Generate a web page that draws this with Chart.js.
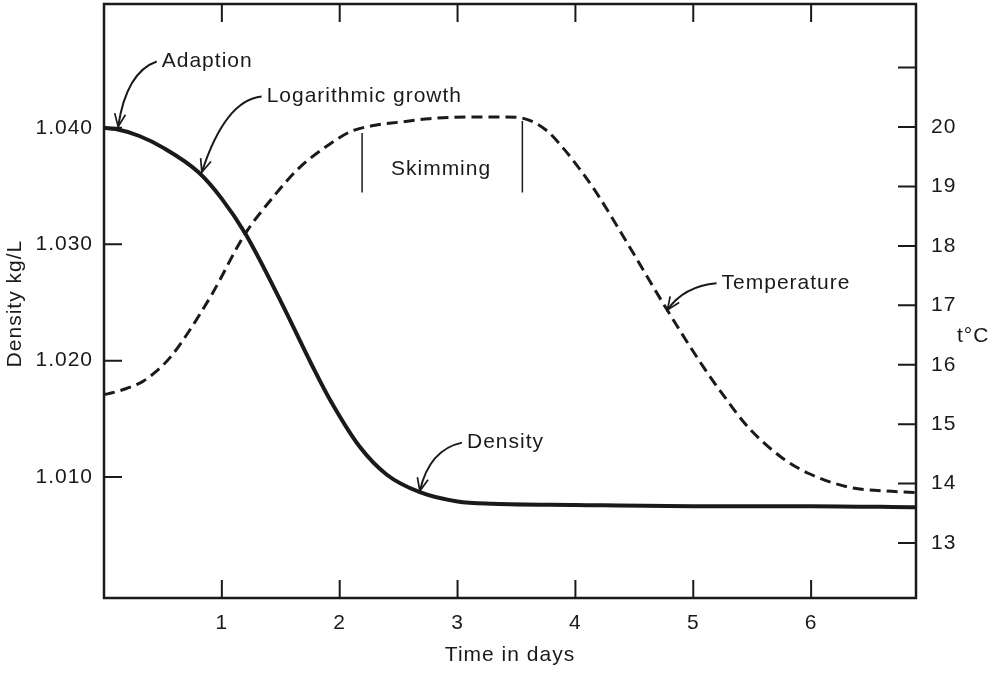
<!DOCTYPE html>
<html>
<head>
<meta charset="utf-8">
<title>Density and temperature during fermentation</title>
<script src="https://cdn.jsdelivr.net/npm/chart.js@4.4.1/dist/chart.umd.min.js"></script>
<style>
  html, body { margin: 0; padding: 0; background: #fff; }
  #wrap { width: 1002px; height: 673px; position: relative; }
</style>
</head>
<body>
<div id="wrap"><canvas id="ferment-chart"></canvas></div>
<script>
// DATA
const densityDays = [0, 0.1, 0.3, 0.5, 0.8, 1.0, 1.2, 1.5, 1.77, 1.92, 2.17, 2.4, 2.68, 3.0, 3.3, 4.0, 5.0, 6.0, 6.89];
const densityValues = [1.0400, 1.0399, 1.0393, 1.0383, 1.0362, 1.0339, 1.0309, 1.0251, 1.0195, 1.0166, 1.0126, 1.0102, 1.0087, 1.0079, 1.0077, 1.0076, 1.0075, 1.0075, 1.0074];

const tempDays = [0, 0.03, 0.19, 0.33, 0.45, 0.56, 0.7, 0.92, 1.19, 1.41, 1.65, 1.92, 2.1, 2.3, 2.5, 2.76, 3.1, 3.41, 3.55, 3.75, 3.89, 4.06, 4.18, 4.46, 4.77, 5.08, 5.28, 5.47, 5.75, 5.98, 6.32, 6.6, 6.89];
const tempValues = [15.5, 15.51, 15.6, 15.72, 15.9, 16.12, 16.5, 17.2, 18.18, 18.76, 19.3, 19.72, 19.93, 20.03, 20.08, 20.14, 20.17, 20.17, 20.15, 19.95, 19.66, 19.23, 18.89, 17.98, 16.95, 15.98, 15.42, 14.94, 14.44, 14.17, 13.94, 13.88, 13.85];

const dayTicks = [1, 2, 3, 4, 5, 6];
const densityTicks = [1.010, 1.020, 1.030, 1.040];
const tempTicks = [13, 14, 15, 16, 17, 18, 19, 20, 21];
const tempLabelMax = 20;

// notes with curved arrows: label position, bend of the arrow and its tip
const noteText = ["Adaption", "Logarithmic growth", "Density", "Temperature"];
const noteAxis = ["yDensity", "yDensity", "yDensity", "yTemp"];
const noteLabelAt = [[0.49, 1.0457], [1.38, 1.0427], [3.08, 1.01296], [5.24, 17.37]];
const noteBend = [[0.19, 1.0448], [1.03, 1.0424], [2.76, 1.01236], [4.92, 17.32]];
const noteTip = [[0.12, 1.0401], [0.83, 1.0362], [2.68, 1.0088], [4.78, 16.92]];

// skimming period, marked on the temperature curve
const skimStart = 2.19, skimEnd = 3.55;
const skimTop = [19.9, 20.1];
const skimBottom = 18.9;
const skimLabelAt = [2.86, 19.29];

const ink = "#1a1a1a";
const fontFamily = "'Liberation Sans', Arial, Helvetica, sans-serif";
const textFont = { family: fontFamily, size: 21 };

// AXES, TICK MARKS AND NOTES
const frameAndNotes = {
    id: "frameAndNotes",
    beforeUpdate: function(chart) { chart.ctx.letterSpacing = "1px"; },
    beforeDraw: function(chart) {
        const ctx = chart.ctx;
        ctx.letterSpacing = "1px";
        ctx.save();
        ctx.fillStyle = "#fff";
        ctx.fillRect(0, 0, chart.width, chart.height);
        ctx.restore();
    },
    afterDatasetsDraw: function(chart) {
        const ctx = chart.ctx;
        const a = chart.chartArea;
        const sx = chart.scales.x, sd = chart.scales.yDensity, st = chart.scales.yTemp;
        const tick = 18;

        ctx.save();
        ctx.strokeStyle = ink;
        ctx.fillStyle = ink;
        ctx.lineCap = "butt";

        // frame
        ctx.lineWidth = 2.5;
        ctx.strokeRect(a.left, a.top, a.right - a.left, a.bottom - a.top);

        // inward tick marks on all four sides
        ctx.lineWidth = 2;
        ctx.beginPath();
        dayTicks.forEach(function(d) {
            const px = sx.getPixelForValue(d);
            ctx.moveTo(px, a.bottom); ctx.lineTo(px, a.bottom - tick);
            ctx.moveTo(px, a.top); ctx.lineTo(px, a.top + tick);
        });
        densityTicks.forEach(function(v) {
            const py = sd.getPixelForValue(v);
            ctx.moveTo(a.left, py); ctx.lineTo(a.left + tick, py);
        });
        tempTicks.forEach(function(v) {
            const py = st.getPixelForValue(v);
            ctx.moveTo(a.right, py); ctx.lineTo(a.right - tick, py);
        });
        ctx.stroke();

        // skimming bracket
        ctx.lineWidth = 1.5;
        ctx.beginPath();
        [skimStart, skimEnd].forEach(function(d, i) {
            const px = sx.getPixelForValue(d);
            ctx.moveTo(px, st.getPixelForValue(skimTop[i]));
            ctx.lineTo(px, st.getPixelForValue(skimBottom));
        });
        ctx.stroke();

        ctx.font = "21px " + fontFamily;
        ctx.textAlign = "center";
        ctx.textBaseline = "middle";
        ctx.fillText("Skimming", sx.getPixelForValue(skimLabelAt[0]), st.getPixelForValue(skimLabelAt[1]));

        // notes and arrows
        ctx.textAlign = "left";
        for (let i = 0; i < noteText.length; i++) {
            const sy = chart.scales[noteAxis[i]];
            const lx = sx.getPixelForValue(noteLabelAt[i][0]);
            const ly = sy.getPixelForValue(noteLabelAt[i][1]);
            const cx = sx.getPixelForValue(noteBend[i][0]);
            const cy = sy.getPixelForValue(noteBend[i][1]);
            const tx = sx.getPixelForValue(noteTip[i][0]);
            const ty = sy.getPixelForValue(noteTip[i][1]);

            ctx.fillText(noteText[i], lx, ly);

            ctx.lineWidth = 2;
            ctx.beginPath();
            ctx.moveTo(lx - 5, ly);
            ctx.quadraticCurveTo(cx, cy, tx, ty);
            ctx.stroke();

            // open arrow head
            const ang = Math.atan2(ty - cy, tx - cx);
            const len = 14, spread = 0.4;
            ctx.lineWidth = 1.7;
            ctx.beginPath();
            ctx.moveTo(tx - len * Math.cos(ang - spread), ty - len * Math.sin(ang - spread));
            ctx.lineTo(tx, ty);
            ctx.lineTo(tx - len * Math.cos(ang + spread), ty - len * Math.sin(ang + spread));
            ctx.stroke();
        }

        // side titles
        ctx.save();
        ctx.translate(15, sd.getPixelForValue(1.0249));
        ctx.rotate(-Math.PI / 2);
        ctx.textAlign = "center";
        ctx.fillText("Density kg/L", 0, 0);
        ctx.restore();

        ctx.textAlign = "left";
        ctx.fillText("t\u00b0C", a.right + 41, st.getPixelForValue(16.48));

        ctx.restore();
    }
};

// CHART
new Chart("ferment-chart", {
    type: "line",
    data: {
        datasets: [
            {
                label: "Density",
                data: densityDays.map(function(d, i) { return { x: d, y: densityValues[i] }; }),
                yAxisID: "yDensity",
                borderColor: ink,
                borderWidth: 4,
                pointRadius: 0,
                cubicInterpolationMode: "monotone",
                fill: false
            },
            {
                label: "Temperature",
                data: tempDays.map(function(d, i) { return { x: d, y: tempValues[i] }; }),
                yAxisID: "yTemp",
                borderColor: ink,
                borderWidth: 3,
                borderDash: [11, 6],
                pointRadius: 0,
                cubicInterpolationMode: "monotone",
                fill: false
            }
        ]
    },
    options: {
        responsive: true,
        maintainAspectRatio: false,
        animation: false,
        layout: { padding: { top: 4, left: 0, right: 0, bottom: 0 } },
        plugins: {
            legend: { display: false },
            tooltip: { enabled: false }
        },
        scales: {
            x: {
                type: "linear",
                min: 0,
                max: 6.89,
                grid: { display: false, drawTicks: false },
                border: { display: false },
                afterBuildTicks: function(s) { s.ticks = dayTicks.map(function(v) { return { value: v }; }); },
                afterFit: function(s) { s.height = 75; s.paddingLeft = 0; s.paddingRight = 0; },
                ticks: { color: ink, font: textFont, padding: 13, maxRotation: 0 },
                title: {
                    display: true,
                    text: "Time in days",
                    color: ink,
                    font: textFont,
                    padding: { top: 0, bottom: 5 }
                }
            },
            yDensity: {
                type: "linear",
                position: "left",
                min: 0.99961,
                max: 1.05064,
                grid: { display: false, drawTicks: false },
                border: { display: false },
                afterBuildTicks: function(s) { s.ticks = densityTicks.map(function(v) { return { value: v }; }); },
                afterFit: function(s) { s.width = 104; s.paddingTop = 0; s.paddingBottom = 0; },
                ticks: {
                    color: ink,
                    font: textFont,
                    padding: 11,
                    callback: function(v) { return v.toFixed(3); }
                }
            },
            yTemp: {
                type: "linear",
                position: "right",
                min: 12.075,
                max: 22.07,
                grid: { display: false, drawTicks: false },
                border: { display: false },
                afterBuildTicks: function(s) { s.ticks = tempTicks.map(function(v) { return { value: v }; }); },
                afterFit: function(s) { s.width = 86; s.paddingTop = 0; s.paddingBottom = 0; },
                ticks: {
                    color: ink,
                    font: textFont,
                    padding: 15,
                    callback: function(v) { return v <= tempLabelMax ? String(v) : ""; }
                }
            }
        }
    },
    plugins: [frameAndNotes]
});
</script>
</body>
</html>
